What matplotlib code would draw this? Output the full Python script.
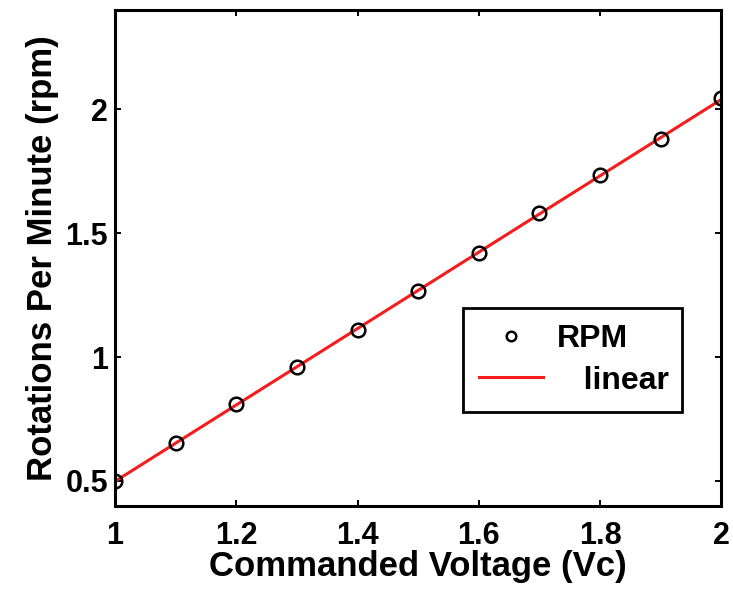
import numpy as np
import matplotlib
matplotlib.use('Agg')
import matplotlib.pyplot as plt

# data
aVoltage = [1.0, 1.1, 1.2, 1.3, 1.4, 1.5, 1.6, 1.7, 1.8, 1.9, 2.0]
aRpm = [0.50, 0.655, 0.81, 0.96, 1.11, 1.265, 1.42, 1.58, 1.735, 1.88, 2.045]
aTick_x = [1, 1.2, 1.4, 1.6, 1.8, 2]
aTick_x_label = ['1', '1.2', '1.4', '1.6', '1.8', '2']
aTick_y = [0.5, 1, 1.5, 2]
aTick_y_label = ['0.5', '1', '1.5', '2']

plt.rcParams['font.family'] = ['Liberation Sans', 'DejaVu Sans']
plt.rcParams['font.weight'] = 'bold'

fig = plt.figure(figsize=(7.33, 5.95), dpi=100)
ax = fig.add_axes([0.157, 0.150, 0.827, 0.833])

# linear fit
aCoef = np.polyfit(aVoltage, aRpm, 1)
aX_fit = np.array([aVoltage[0], aVoltage[-1]])
ax.plot(aX_fit, np.polyval(aCoef, aX_fit), color='#f41c1c', lw=2.2, label='   linear', zorder=2)
ax.plot(aVoltage, aRpm, linestyle='none', marker='o', ms=9.8, mfc='none',
        mec='black', mew=1.8, label='RPM', zorder=3)

ax.set_xlim(1, 2)
ax.set_ylim(0.4, 2.4)
ax.set_xticks(aTick_x)
ax.set_xticklabels(aTick_x_label)
ax.set_yticks(aTick_y)
ax.set_yticklabels(aTick_y_label)
ax.tick_params(direction='in', top=True, right=True, length=4, width=1.4,
               labelsize=22)
ax.tick_params(axis='x', pad=11)
ax.tick_params(axis='y', pad=5)
for s in ax.spines.values():
    s.set_linewidth(2.2)

ax.set_xlabel('Commanded Voltage (Vc)', fontsize=25, fontweight='bold', labelpad=-1)
ax.set_ylabel('Rotations Per Minute (rpm)', fontsize=25, fontweight='bold', labelpad=5)

h, l = ax.get_legend_handles_labels()
leg = ax.legend([h[1], h[0]], [l[1], l[0]], loc='lower left',
                bbox_to_anchor=(0.574, 0.19, 0.362, 0.205), mode='expand',
                fontsize=23, markerscale=0.7,
                fancybox=False, framealpha=1, edgecolor='black',
                handlelength=2.0, handletextpad=0.45, borderpad=0.5,
                labelspacing=0.35, borderaxespad=0)
leg.get_frame().set_linewidth(2)

fig.savefig('out.png', dpi=100)
plt.close('all')
